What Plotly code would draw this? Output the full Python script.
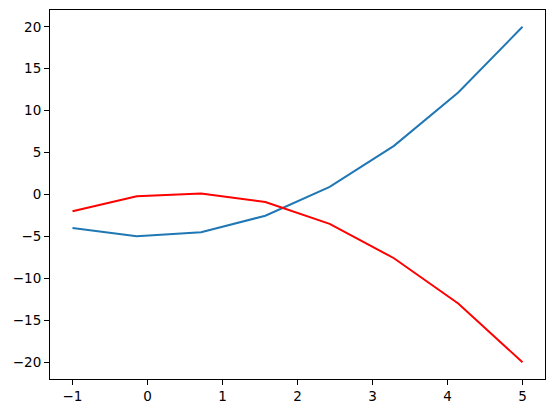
import plotly.graph_objects as go

x_vals = [-1.0, -0.143, 0.714, 1.571, 2.429, 3.286, 4.143, 5.0]
blue_vals = [-4.0, -4.98, -4.49, -2.53, 0.9, 5.8, 12.16, 20.0]
red_vals = [-2.0, -0.2, 0.12, -0.9, -3.5, -7.6, -13.0, -20.0]

x_ticks = [-1, 0, 1, 2, 3, 4, 5]
y_ticks = [-20, -15, -10, -5, 0, 5, 10, 15, 20]

fig = go.Figure()
fig.add_trace(go.Scatter(x=x_vals, y=blue_vals, mode="lines",
                         line=dict(color="#1f77b4", width=2)))
fig.add_trace(go.Scatter(x=x_vals, y=red_vals, mode="lines",
                         line=dict(color="red", width=2)))

axis_style = dict(showgrid=False, zeroline=False, showline=True, linecolor="black",
                  linewidth=1, mirror=True, ticks="outside", ticklen=5, tickwidth=1,
                  tickcolor="black", tickfont=dict(family="DejaVu Sans", size=13.5, color="black"))

fig.update_layout(
    width=554, height=413,
    margin=dict(l=50, r=9, t=10, b=34),
    paper_bgcolor="white", plot_bgcolor="white",
    showlegend=False,
    xaxis=dict(range=[-1.3, 5.3], tickvals=x_ticks, **axis_style),
    yaxis=dict(range=[-22, 22], tickvals=y_ticks, **axis_style),
)

# drop the default page margin so the figure sits at the window corner
fig.write_html("out.html", config={"displayModeBar": False},
               post_script="document.body.style.margin='0';")
